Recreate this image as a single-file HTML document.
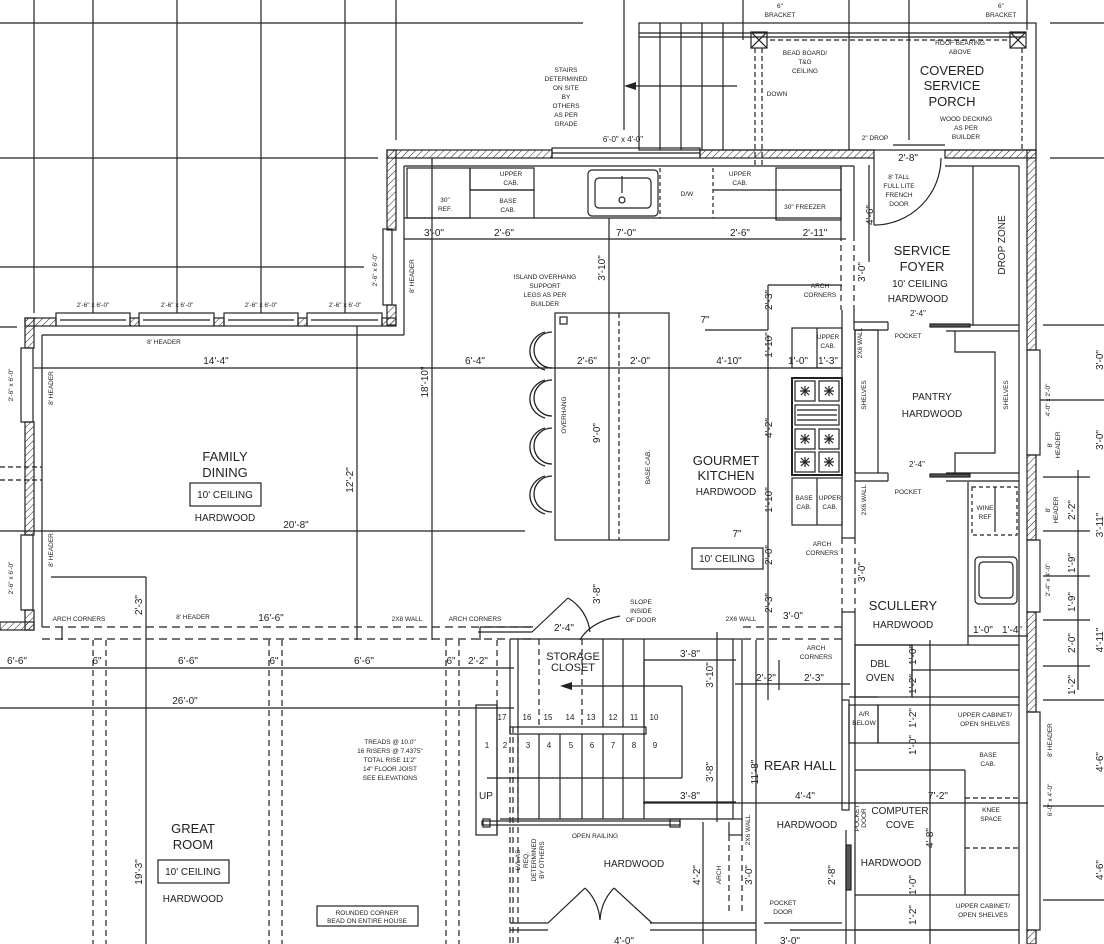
<!DOCTYPE html>
<html><head><meta charset="utf-8"><style>
html,body{margin:0;padding:0;background:#fff}
svg{display:block}
text{font-family:"Liberation Sans",sans-serif;fill:#222;text-anchor:middle}
.s{font-size:6.5px}.m{font-size:10px}.r{font-size:13px}.n{font-size:8px}
</style></head><body>
<svg width="1104" height="944" viewBox="0 0 1104 944" xmlns="http://www.w3.org/2000/svg">
<defs><pattern id="h" width="5" height="5" patternUnits="userSpaceOnUse" patternTransform="rotate(45)"><line x1="0" y1="0" x2="0" y2="5" stroke="#222" stroke-width="1"/></pattern></defs>
<g stroke="#222" stroke-width="1.2" fill="none">
<!-- grid top-left -->
<line x1="0" y1="23" x2="583" y2="23"/><line x1="0" y1="158" x2="378" y2="158"/><line x1="0" y1="267" x2="364" y2="267"/>
<line x1="34" y1="0" x2="34" y2="313"/><line x1="93" y1="0" x2="93" y2="313"/><line x1="177" y1="0" x2="177" y2="313"/><line x1="261" y1="0" x2="261" y2="313"/><line x1="345" y1="0" x2="345" y2="313"/><line x1="396" y1="0" x2="396" y2="140"/>
<line x1="0" y1="327" x2="17" y2="327"/>
<line x1="0" y1="467" x2="42" y2="467" stroke-dasharray="5,3"/><line x1="0" y1="480" x2="42" y2="480" stroke-dasharray="5,3"/>
<!-- grid top-right -->
<line x1="624" y1="0" x2="624" y2="130"/><line x1="743" y1="0" x2="743" y2="40"/><line x1="849" y1="0" x2="849" y2="150"/><line x1="909" y1="0" x2="909" y2="140"/><line x1="1027" y1="0" x2="1027" y2="30"/>
<line x1="1050" y1="23" x2="1104" y2="23"/><line x1="1050" y1="158" x2="1104" y2="158"/><line x1="1043" y1="325" x2="1104" y2="325"/><line x1="1040" y1="400" x2="1104" y2="400"/>
<line x1="1043" y1="477" x2="1090" y2="477"/><line x1="1043" y1="531" x2="1090" y2="531"/><line x1="1043" y1="576" x2="1090" y2="576"/><line x1="1043" y1="620" x2="1090" y2="620"/><line x1="1043" y1="666" x2="1090" y2="666"/>
<line x1="1078" y1="470" x2="1078" y2="690"/>
<line x1="1043" y1="700" x2="1104" y2="700"/><line x1="1043" y1="806" x2="1104" y2="806"/><line x1="1043" y1="900" x2="1104" y2="900"/>
<!-- porch -->
<rect x="639" y="23" width="397" height="127"/>
<line x1="639" y1="33" x2="1025" y2="33"/><line x1="639" y1="37" x2="1025" y2="37"/>
<line x1="660" y1="23" x2="660" y2="150"/><line x1="681" y1="23" x2="681" y2="150"/><line x1="702" y1="23" x2="702" y2="150"/><line x1="723" y1="23" x2="723" y2="150"/>
<rect x="751" y="32" width="16" height="16"/><line x1="751" y1="32" x2="767" y2="48"/><line x1="767" y1="32" x2="751" y2="48"/>
<rect x="1010" y="32" width="16" height="16"/><line x1="1010" y1="32" x2="1026" y2="48"/><line x1="1026" y1="32" x2="1010" y2="48"/>
<line x1="755" y1="48" x2="755" y2="166" stroke-dasharray="5,3"/><line x1="762" y1="48" x2="762" y2="166" stroke-dasharray="5,3"/>
<line x1="1022" y1="48" x2="1022" y2="150" stroke-dasharray="5,3"/>
<line x1="770" y1="40" x2="1008" y2="40" stroke-dasharray="5,3"/>
<line x1="630" y1="86" x2="737" y2="86"/>
<line x1="893" y1="145" x2="945" y2="145"/>
<!-- walls -->
<g fill="url(#h)">
<rect x="387" y="150" width="165" height="8"/>
<rect x="700" y="150" width="174" height="8"/>
<rect x="945" y="150" width="91" height="8"/>
<rect x="1027" y="150" width="9" height="200"/><rect x="1027" y="455" width="9" height="85"/><rect x="1027" y="612" width="9" height="100"/><rect x="1027" y="930" width="9" height="14"/>
<rect x="387" y="150" width="9" height="80"/><rect x="387" y="305" width="9" height="20"/>
<rect x="25" y="318" width="31" height="8"/><rect x="130" y="318" width="9" height="8"/><rect x="214" y="318" width="10" height="8"/><rect x="298" y="318" width="9" height="8"/><rect x="382" y="318" width="14" height="8"/>
<rect x="25" y="318" width="9" height="30"/><rect x="25" y="422" width="9" height="113"/><rect x="25" y="610" width="9" height="20"/><rect x="0" y="622" width="34" height="8"/>
</g>
<line x1="404" y1="166" x2="404" y2="335"/><line x1="404" y1="166" x2="854" y2="166"/>
<line x1="42" y1="335" x2="404" y2="335"/><line x1="42" y1="335" x2="42" y2="627"/>
<line x1="945" y1="166" x2="1019" y2="166"/><line x1="1019" y1="166" x2="1019" y2="944"/>
<!-- windows -->
<rect x="552" y="148" width="148" height="10"/><line x1="552" y1="153" x2="700" y2="153"/>
<rect x="383" y="229" width="9" height="76"/>
<rect x="56" y="313" width="74" height="13"/><rect x="139" y="313" width="75" height="13"/><rect x="224" y="313" width="74" height="13"/><rect x="307" y="313" width="75" height="13"/>
<line x1="60" y1="320" x2="126" y2="320"/><line x1="143" y1="320" x2="210" y2="320"/><line x1="228" y1="320" x2="294" y2="320"/><line x1="311" y1="320" x2="378" y2="320"/>
<rect x="21" y="348" width="12" height="74"/><rect x="21" y="535" width="12" height="75"/>
<rect x="1027" y="350" width="13" height="105"/><rect x="1027" y="540" width="13" height="72"/><rect x="1027" y="712" width="13" height="218"/>
<!-- door porch -->
<line x1="874" y1="158" x2="874" y2="225"/><path d="M874 225 A67 67 0 0 0 941 158"/>
<!-- cabinets top -->
<rect x="407" y="168" width="63" height="50"/><rect x="470" y="168" width="64" height="22"/><line x1="470" y1="190" x2="534" y2="190"/><line x1="534" y1="190" x2="534" y2="218"/>
<line x1="404" y1="218" x2="841" y2="218"/>
<rect x="588" y="170" width="70" height="46" rx="4"/><rect x="595" y="178" width="56" height="30" rx="4"/><circle cx="622" cy="200" r="3"/><line x1="622" y1="176" x2="622" y2="193"/>
<line x1="660" y1="168" x2="660" y2="218" stroke-dasharray="4,3"/><line x1="713" y1="168" x2="713" y2="218" stroke-dasharray="4,3"/>
<line x1="713" y1="190" x2="776" y2="190"/><rect x="776" y="168" width="65" height="52"/><line x1="776" y1="190" x2="841" y2="190"/>
<line x1="841" y1="166" x2="841" y2="235"/><line x1="854" y1="166" x2="854" y2="235"/>
<line x1="841" y1="235" x2="841" y2="310" stroke-dasharray="6,4"/><line x1="854" y1="235" x2="854" y2="310" stroke-dasharray="6,4"/>
<!-- dims -->
<line x1="404" y1="239" x2="846" y2="239"/>
<line x1="34" y1="368" x2="840" y2="368"/>
<line x1="0" y1="531" x2="525" y2="531"/>
<line x1="432" y1="158" x2="432" y2="640"/><line x1="357" y1="326" x2="357" y2="640"/>
<line x1="609" y1="218" x2="609" y2="313"/>
<line x1="768" y1="285" x2="768" y2="330"/><line x1="768" y1="285" x2="842" y2="285"/><line x1="705" y1="330" x2="768" y2="330"/>
<line x1="768" y1="335" x2="768" y2="700"/>
<line x1="869" y1="165" x2="869" y2="262"/>
<!-- island & chairs -->
<rect x="555" y="313" width="114" height="227"/><line x1="609" y1="313" x2="609" y2="540"/><line x1="619" y1="313" x2="619" y2="540" stroke-dasharray="5,3"/><rect x="560" y="317" width="7" height="7"/>
<g stroke-width="1.3">
<path d="M552 332 A18 18 0 0 0 552 368"/><path d="M545 332 A22 20 0 0 0 545 370"/>
<path d="M552 380 A18 18 0 0 0 552 416"/><path d="M545 380 A22 20 0 0 0 545 418"/>
<path d="M552 428 A18 18 0 0 0 552 464"/><path d="M545 428 A22 20 0 0 0 545 466"/>
<path d="M552 476 A18 18 0 0 0 552 512"/><path d="M545 476 A22 20 0 0 0 545 514"/>
</g>
<!-- stove -->
<rect x="792" y="378" width="50" height="97" stroke-width="2"/>
<rect x="795" y="381" width="20" height="20"/><rect x="819" y="381" width="20" height="20"/>
<rect x="795" y="405" width="44" height="20"/><line x1="797" y1="410" x2="837" y2="410"/><line x1="797" y1="415" x2="837" y2="415"/><line x1="797" y1="420" x2="837" y2="420"/>
<rect x="795" y="429" width="20" height="20"/><rect x="819" y="429" width="20" height="20"/>
<rect x="795" y="452" width="20" height="20"/><rect x="819" y="452" width="20" height="20"/>
<path d="M800 391h10M805 386v10M801 387l8 8M809 387l-8 8 M824 391h10M829 386v10M825 387l8 8M833 387l-8 8"/>
<path d="M800 439h10M805 434v10M801 435l8 8M809 435l-8 8 M824 439h10M829 434v10M825 435l8 8M833 435l-8 8"/>
<path d="M800 462h10M805 457v10M801 458l8 8M809 458l-8 8 M824 462h10M829 457v10M825 458l8 8M833 458l-8 8"/>
<rect x="792" y="328" width="50" height="40"/><rect x="792" y="478" width="50" height="47"/><line x1="817" y1="478" x2="817" y2="525"/><line x1="817" y1="328" x2="817" y2="368"/>
<!-- foyer / pantry -->
<line x1="854" y1="310" x2="854" y2="330"/><line x1="854" y1="322" x2="888" y2="322"/><line x1="854" y1="330" x2="888" y2="330"/><line x1="888" y1="322" x2="888" y2="330"/>
<line x1="842" y1="310" x2="842" y2="538"/><line x1="855" y1="330" x2="855" y2="538"/><line x1="842" y1="538" x2="855" y2="538"/>
<rect x="855" y="330" width="23" height="143"/>
<line x1="878" y1="473" x2="888" y2="473"/><line x1="855" y1="481" x2="888" y2="481"/><line x1="888" y1="473" x2="888" y2="481"/>
<line x1="973" y1="166" x2="973" y2="325"/><line x1="946" y1="325" x2="1019" y2="325"/><line x1="946" y1="331" x2="1019" y2="331"/>
<rect x="930" y="324" width="40" height="3" fill="#555"/><rect x="930" y="474" width="40" height="3" fill="#555"/>
<path d="M955 331V352H995V453H955V473"/>
<line x1="946" y1="473" x2="1019" y2="473"/><line x1="946" y1="481" x2="1019" y2="481"/>
<line x1="968" y1="482" x2="968" y2="645"/>
<rect x="972" y="487" width="45" height="48" stroke-dasharray="4,3"/><line x1="995" y1="487" x2="995" y2="532"/>
<rect x="975" y="557" width="42" height="47" rx="4"/><rect x="979" y="562" width="34" height="36" rx="4"/>
<line x1="855" y1="612" x2="855" y2="944"/><line x1="842" y1="612" x2="842" y2="700"/><line x1="842" y1="612" x2="855" y2="612"/>
<line x1="842" y1="538" x2="842" y2="612" stroke-dasharray="6,4"/><line x1="855" y1="538" x2="855" y2="612" stroke-dasharray="6,4"/>
<line x1="855" y1="645" x2="1019" y2="645"/><rect x="855" y="645" width="57" height="52"/><line x1="912" y1="645" x2="912" y2="697"/>
<line x1="912" y1="697" x2="1019" y2="697"/><line x1="912" y1="670" x2="1019" y2="670"/>
<line x1="968" y1="636" x2="1028" y2="636"/>
<!-- scullery to rear -->
<line x1="849" y1="697" x2="878" y2="697"/><rect x="849" y="705" width="29" height="38"/><rect x="842" y="700" width="7" height="110"/>
<line x1="878" y1="705" x2="1019" y2="705"/><line x1="878" y1="743" x2="1019" y2="743"/><line x1="878" y1="705" x2="878" y2="743"/>
<line x1="855" y1="770" x2="965" y2="770"/><line x1="965" y1="770" x2="965" y2="895"/>
<line x1="965" y1="798" x2="1019" y2="798" stroke-dasharray="5,3"/><line x1="965" y1="848" x2="1019" y2="848" stroke-dasharray="5,3"/>
<line x1="855" y1="895" x2="1019" y2="895"/><line x1="855" y1="930" x2="1019" y2="930"/>
<line x1="930" y1="640" x2="930" y2="944"/>
<line x1="846" y1="830" x2="846" y2="944"/><rect x="846" y="845" width="5" height="45" fill="#555"/>
<line x1="643" y1="803" x2="1028" y2="803"/>
<line x1="735" y1="684" x2="850" y2="684"/><line x1="779" y1="660" x2="779" y2="690"/>
<!-- horizontal band dashed -->
<line x1="42" y1="627" x2="533" y2="627" stroke-dasharray="8,5"/><line x1="42" y1="639" x2="533" y2="639" stroke-dasharray="8,5"/>
<line x1="743" y1="627" x2="842" y2="627" stroke-dasharray="8,5"/><line x1="743" y1="639" x2="842" y2="639" stroke-dasharray="8,5"/>
<line x1="62" y1="627" x2="62" y2="640"/><line x1="480" y1="627" x2="533" y2="627"/><line x1="480" y1="627" x2="480" y2="640"/>
<line x1="51" y1="577" x2="146" y2="577"/><line x1="146" y1="577" x2="146" y2="944"/>
<line x1="0" y1="668" x2="514" y2="668"/><line x1="0" y1="708" x2="514" y2="708"/>
<g stroke-dasharray="6,4">
<line x1="93" y1="640" x2="93" y2="944"/><line x1="106" y1="640" x2="106" y2="944"/>
<line x1="269" y1="640" x2="269" y2="944"/><line x1="282" y1="640" x2="282" y2="944"/>
<line x1="446" y1="640" x2="446" y2="944"/><line x1="459" y1="640" x2="459" y2="944"/>
<line x1="497" y1="640" x2="497" y2="705"/>
<line x1="510" y1="727" x2="510" y2="944"/><line x1="513" y1="727" x2="513" y2="944"/><line x1="518" y1="727" x2="518" y2="944"/>
<line x1="539" y1="639" x2="539" y2="727"/><line x1="582" y1="639" x2="582" y2="727"/>
<line x1="729" y1="835" x2="729" y2="915"/><line x1="742" y1="835" x2="742" y2="915"/>
</g>
<!-- stairs -->
<line x1="510" y1="639" x2="510" y2="734"/><line x1="518" y1="639" x2="518" y2="727"/>
<line x1="518" y1="639" x2="733" y2="639"/><line x1="478" y1="632" x2="532" y2="632"/>
<rect x="733" y="639" width="9" height="180"/>
<rect x="510" y="727" width="136" height="7"/>
<g><line x1="603" y1="639" x2="603" y2="727"/><line x1="623" y1="639" x2="623" y2="727"/><line x1="644" y1="639" x2="644" y2="727"/>
<line x1="539" y1="734" x2="539" y2="819"/><line x1="560" y1="734" x2="560" y2="819"/><line x1="582" y1="734" x2="582" y2="819"/><line x1="603" y1="734" x2="603" y2="819"/><line x1="623" y1="734" x2="623" y2="819"/><line x1="644" y1="660" x2="644" y2="819"/>
<line x1="518" y1="734" x2="518" y2="819"/><line x1="497" y1="705" x2="497" y2="835"/></g>
<rect x="476" y="705" width="21" height="130"/>
<line x1="565" y1="686" x2="682" y2="686"/><line x1="682" y1="686" x2="682" y2="778"/><line x1="487" y1="778" x2="682" y2="778"/>
<line x1="644" y1="660" x2="736" y2="660"/><line x1="644" y1="802" x2="736" y2="802"/><line x1="717" y1="632" x2="717" y2="822"/>
<line x1="500" y1="819" x2="733" y2="819"/>
<rect x="482" y="821" width="198" height="4"/><rect x="483" y="819" width="7" height="8"/><rect x="670" y="819" width="10" height="8"/>
<line x1="742" y1="819" x2="742" y2="835"/><line x1="729" y1="835" x2="742" y2="835"/><line x1="729" y1="822" x2="729" y2="835"/>
<line x1="703" y1="822" x2="703" y2="944"/><line x1="756" y1="640" x2="756" y2="944"/>
<!-- closet door -->
<line x1="532" y1="632" x2="568" y2="598"/><path d="M568 598 A45 45 0 0 1 590 632"/>
<path d="M580 640 Q590 622 620 616"/>
<!-- bottom wall and french doors -->
<line x1="510" y1="923" x2="548" y2="923"/><line x1="650" y1="923" x2="756" y2="923"/>
<line x1="548" y1="923" x2="585" y2="888"/><path d="M585 888 A50 50 0 0 1 600 920"/>
<line x1="652" y1="923" x2="614" y2="888"/><path d="M614 888 A50 50 0 0 0 600 920"/>
<line x1="510" y1="930" x2="548" y2="930"/><line x1="650" y1="930" x2="756" y2="930"/>
<line x1="764" y1="923" x2="842" y2="923"/><line x1="790" y1="930" x2="1019" y2="930"/>
<!-- boxes -->
<rect x="190" y="483" width="71" height="23"/><rect x="158" y="860" width="71" height="23"/><rect x="692" y="548" width="71" height="21"/><rect x="317" y="906" width="101" height="20"/>
</g>
<!-- arrows -->
<polygon points="624,86 636,82 636,90" fill="#222"/><polygon points="560,686 572,682 572,690" fill="#222"/>
<!-- TEXT -->
<g class="s">
<text x="780" y="8">6"</text><text x="780" y="17">BRACKET</text><text x="1001" y="8">6"</text><text x="1001" y="17">BRACKET</text>
<text x="566" y="72">STAIRS</text><text x="566" y="81">DETERMINED</text><text x="566" y="90">ON SITE</text><text x="566" y="99">BY</text><text x="566" y="108">OTHERS</text><text x="566" y="117">AS PER</text><text x="566" y="126">GRADE</text>
<text x="805" y="55">BEAD BOARD/</text><text x="805" y="64">T&amp;G</text><text x="805" y="73">CEILING</text><text x="777" y="96">DOWN</text>
<text x="960" y="45">ROOF BEARING</text><text x="960" y="54">ABOVE</text>
<text x="966" y="121">WOOD DECKING</text><text x="966" y="130">AS PER</text><text x="966" y="139">BUILDER</text>
<text x="875" y="140">2" DROP</text>
<text x="899" y="179">8' TALL</text><text x="899" y="188">FULL LITE</text><text x="899" y="197">FRENCH</text><text x="899" y="206">DOOR</text>
<text x="511" y="176">UPPER</text><text x="511" y="185">CAB.</text><text x="445" y="202">30"</text><text x="445" y="211">REF.</text><text x="508" y="203">BASE</text><text x="508" y="212">CAB.</text>
<text x="687" y="196">D/W</text><text x="740" y="176">UPPER</text><text x="740" y="185">CAB.</text><text x="805" y="209">30" FREEZER</text>
<text x="545" y="279">ISLAND OVERHANG</text><text x="545" y="288">SUPPORT</text><text x="545" y="297">LEGS AS PER</text><text x="545" y="306">BUILDER</text>
<text x="820" y="288">ARCH</text><text x="820" y="297">CORNERS</text>
<text x="908" y="338">POCKET</text><text x="828" y="339">UPPER</text><text x="828" y="348">CAB.</text>
<text x="164" y="344">8' HEADER</text>
<text x="908" y="494">POCKET</text><text x="804" y="500">BASE</text><text x="804" y="509">CAB.</text><text x="830" y="500">UPPER</text><text x="830" y="509">CAB.</text>
<text x="985" y="510">WINE</text><text x="985" y="519">REF</text>
<text x="822" y="546">ARCH</text><text x="822" y="555">CORNERS</text>
<text x="79" y="621">ARCH CORNERS</text><text x="193" y="619">8' HEADER</text><text x="407" y="621">2X8 WALL</text><text x="475" y="621">ARCH CORNERS</text><text x="741" y="621">2X6 WALL</text>
<text x="641" y="604">SLOPE</text><text x="641" y="613">INSIDE</text><text x="641" y="622">OF DOOR</text>
<text x="816" y="650">ARCH</text><text x="816" y="659">CORNERS</text>
<text x="864" y="716">A/R</text><text x="864" y="725">BELOW</text>
<text x="985" y="717">UPPER CABINET/</text><text x="985" y="726">OPEN SHELVES</text>
<text x="988" y="757">BASE</text><text x="988" y="766">CAB.</text><text x="991" y="812">KNEE</text><text x="991" y="821">SPACE</text>
<text x="390" y="744">TREADS @ 10.0"</text><text x="390" y="753">16 RISERS @ 7.4375"</text><text x="390" y="762">TOTAL RISE 11'2"</text><text x="390" y="771">14" FLOOR JOIST</text><text x="390" y="780">SEE ELEVATIONS</text>
<text x="595" y="838">OPEN RAILING</text>
<text x="783" y="905">POCKET</text><text x="783" y="914">DOOR</text>
<text x="983" y="908">UPPER CABINET/</text><text x="983" y="917">OPEN SHELVES</text>
<text x="367" y="915">ROUNDED CORNER</text><text x="367" y="923">BEAD ON ENTIRE HOUSE</text>
<text x="93" y="307">2'-6" x 6'-0"</text><text x="177" y="307">2'-6" x 6'-0"</text><text x="261" y="307">2'-6" x 6'-0"</text><text x="345" y="307">2'-6" x 6'-0"</text>
<text x="623" y="142" class="n">6'-0" x 4'-0"</text>
</g>
<g class="s">
<text transform="translate(377,270) rotate(-90)">2'-6" x 6'-0"</text>
<text transform="translate(414,276) rotate(-90)">8' HEADER</text>
<text transform="translate(13,385) rotate(-90)">2'-6" x 6'-0"</text><text transform="translate(53,388) rotate(-90)">8' HEADER</text>
<text transform="translate(13,578) rotate(-90)">2'-6" x 6'-0"</text><text transform="translate(53,550) rotate(-90)">8' HEADER</text>
<text transform="translate(566,415) rotate(-90)">OVERHANG</text><text transform="translate(650,467) rotate(-90)">BASE CAB.</text>
<text transform="translate(866,395) rotate(-90)">SHELVES</text><text transform="translate(1008,395) rotate(-90)">SHELVES</text>
<text transform="translate(866,500) rotate(-90)">2X6 WALL</text><text transform="translate(862,343) rotate(-90)">2X6 WALL</text>
<text transform="translate(1050,400) rotate(-90)">4'-0" x 2'-0"</text><text transform="translate(1052,445) rotate(-90)">8'</text><text transform="translate(1060,445) rotate(-90)">HEADER</text>
<text transform="translate(1050,510) rotate(-90)">8'</text><text transform="translate(1058,510) rotate(-90)">HEADER</text>
<text transform="translate(1050,580) rotate(-90)">2'-4" x 4'-0"</text>
<text transform="translate(1052,800) rotate(-90)">6'-0" x 4'-0"</text><text transform="translate(1052,740) rotate(-90)">8' HEADER</text>
<text transform="translate(859,818) rotate(-90)">POCKET</text><text transform="translate(866,818) rotate(-90)">DOOR</text>
<text transform="translate(750,830) rotate(-90)">2X6 WALL</text><text transform="translate(721,875) rotate(-90)">ARCH</text>
<text transform="translate(520,860) rotate(-90)">LVL AS</text><text transform="translate(528,860) rotate(-90)">REQ.</text><text transform="translate(536,860) rotate(-90)">DETERMINED</text><text transform="translate(544,860) rotate(-90)">BY OTHERS</text>
</g>
<g class="m">
<text x="908" y="161">2'-8"</text>
<text x="434" y="236">3'-0"</text><text x="504" y="236">2'-6"</text><text x="626" y="236">7'-0"</text><text x="740" y="236">2'-6"</text><text x="815" y="236">2'-11"</text>
<text x="918" y="316" class="s" style="font-size:8px">2'-4"</text><text x="917" y="467" style="font-size:8px">2'-4"</text>
<text x="216" y="364">14'-4"</text><text x="475" y="364">6'-4"</text><text x="587" y="364">2'-6"</text><text x="640" y="364">2'-0"</text><text x="729" y="364">4'-10"</text><text x="798" y="364">1'-0"</text><text x="828" y="364">1'-3"</text>
<text x="296" y="528">20'-8"</text>
<text x="705" y="323">7"</text><text x="737" y="537">7"</text>
<text x="271" y="621">16'-6"</text><text x="564" y="631">2'-4"</text><text x="793" y="619">3'-0"</text>
<text x="983" y="633">1'-0"</text><text x="1012" y="633">1'-4"</text>
<text x="17" y="664">6'-6"</text><text x="97" y="664">6"</text><text x="188" y="664">6'-6"</text><text x="274" y="664">6"</text><text x="364" y="664">6'-6"</text><text x="451" y="664">6"</text><text x="478" y="664">2'-2"</text>
<text x="185" y="704">26'-0"</text>
<text x="690" y="657">3'-8"</text><text x="766" y="681">2'-2"</text><text x="814" y="681">2'-3"</text>
<text x="690" y="799">3'-8"</text><text x="805" y="799">4'-4"</text><text x="938" y="799">7'-2"</text>
<text x="624" y="944">4'-0"</text><text x="790" y="944">3'-0"</text>
<text transform="translate(873,215) rotate(-90)">4'-6"</text>
<text transform="translate(605,268) rotate(-90)">3'-10"</text><text transform="translate(865,272) rotate(-90)">3'-0"</text>
<text transform="translate(772,300) rotate(-90)">2'-3"</text><text transform="translate(772,345) rotate(-90)">1'-10"</text><text transform="translate(772,428) rotate(-90)">4'-2"</text>
<text transform="translate(772,500) rotate(-90)">1'-10"</text><text transform="translate(772,555) rotate(-90)">2'-0"</text><text transform="translate(772,603) rotate(-90)">2'-3"</text>
<text transform="translate(865,572) rotate(-90)">3'-0"</text>
<text transform="translate(428,382) rotate(-90)">18'-10"</text><text transform="translate(353,480) rotate(-90)">12'-2"</text>
<text transform="translate(600,433) rotate(-90)">9'-0"</text><text transform="translate(600,594) rotate(-90)">3'-8"</text>
<text transform="translate(142,605) rotate(-90)">2'-3"</text><text transform="translate(142,872) rotate(-90)">19'-3"</text>
<text transform="translate(713,675) rotate(-90)">3'-10"</text><text transform="translate(713,772) rotate(-90)">3'-8"</text><text transform="translate(758,772) rotate(-90)">11'-8"</text>
<text transform="translate(700,875) rotate(-90)">4'-2"</text><text transform="translate(752,875) rotate(-90)">3'-0"</text><text transform="translate(835,875) rotate(-90)">2'-8"</text>
<text transform="translate(933,838) rotate(-90)">4'-8"</text>
<text transform="translate(916,655) rotate(-90)">1'-0"</text><text transform="translate(916,684) rotate(-90)">1'-2"</text><text transform="translate(916,718) rotate(-90)">1'-2"</text><text transform="translate(916,745) rotate(-90)">1'-0"</text>
<text transform="translate(916,885) rotate(-90)">1'-0"</text><text transform="translate(916,915) rotate(-90)">1'-2"</text>
<text transform="translate(1075,510) rotate(-90)">2'-2"</text><text transform="translate(1075,563) rotate(-90)">1'-9"</text><text transform="translate(1075,602) rotate(-90)">1'-9"</text><text transform="translate(1075,643) rotate(-90)">2'-0"</text><text transform="translate(1075,685) rotate(-90)">1'-2"</text>
<text transform="translate(1103,360) rotate(-90)">3'-0"</text><text transform="translate(1103,440) rotate(-90)">3'-0"</text><text transform="translate(1103,525) rotate(-90)">3'-11"</text><text transform="translate(1103,640) rotate(-90)">4'-11"</text><text transform="translate(1103,762) rotate(-90)">4'-6"</text><text transform="translate(1103,870) rotate(-90)">4'-6"</text>
</g>
<g class="n">
<text x="502" y="720">17</text><text x="527" y="720">16</text><text x="548" y="720">15</text><text x="570" y="720">14</text><text x="591" y="720">13</text><text x="613" y="720">12</text><text x="634" y="720">11</text><text x="654" y="720">10</text>
<text x="487" y="748">1</text><text x="505" y="748">2</text><text x="528" y="748">3</text><text x="549" y="748">4</text><text x="571" y="748">5</text><text x="592" y="748">6</text><text x="613" y="748">7</text><text x="634" y="748">8</text><text x="655" y="748">9</text>
</g>
<g class="r">
<text x="952" y="75">COVERED</text><text x="952" y="90">SERVICE</text><text x="952" y="106">PORCH</text>
<text x="922" y="255">SERVICE</text><text x="922" y="271">FOYER</text>
<text x="225" y="461">FAMILY</text><text x="225" y="477">DINING</text>
<text x="726" y="465">GOURMET</text><text x="726" y="480">KITCHEN</text>
<text x="903" y="610">SCULLERY</text><text x="800" y="770">REAR HALL</text>
<text x="193" y="833">GREAT</text><text x="193" y="849">ROOM</text>
<text x="573" y="660" style="font-size:11px">STORAGE</text><text x="573" y="671" style="font-size:11px">CLOSET</text>
<text x="486" y="799" style="font-size:10px">UP</text>
</g>
<g style="font-size:10px">
<text x="920" y="287">10' CEILING</text><text x="918" y="302">HARDWOOD</text>
<text x="932" y="400">PANTRY</text><text x="932" y="417">HARDWOOD</text>
<text x="726" y="495">HARDWOOD</text><text x="903" y="628">HARDWOOD</text>
<text x="225" y="498">10' CEILING</text><text x="225" y="521">HARDWOOD</text>
<text x="727" y="562">10' CEILING</text>
<text x="880" y="667">DBL</text><text x="880" y="681">OVEN</text>
<text x="900" y="814">COMPUTER</text><text x="900" y="828">COVE</text><text x="807" y="828">HARDWOOD</text><text x="891" y="866">HARDWOOD</text>
<text x="634" y="867">HARDWOOD</text>
<text x="193" y="875">10' CEILING</text><text x="193" y="902">HARDWOOD</text>
<text transform="translate(1005,245) rotate(-90)">DROP ZONE</text>
</g>
</svg>
</body></html>
